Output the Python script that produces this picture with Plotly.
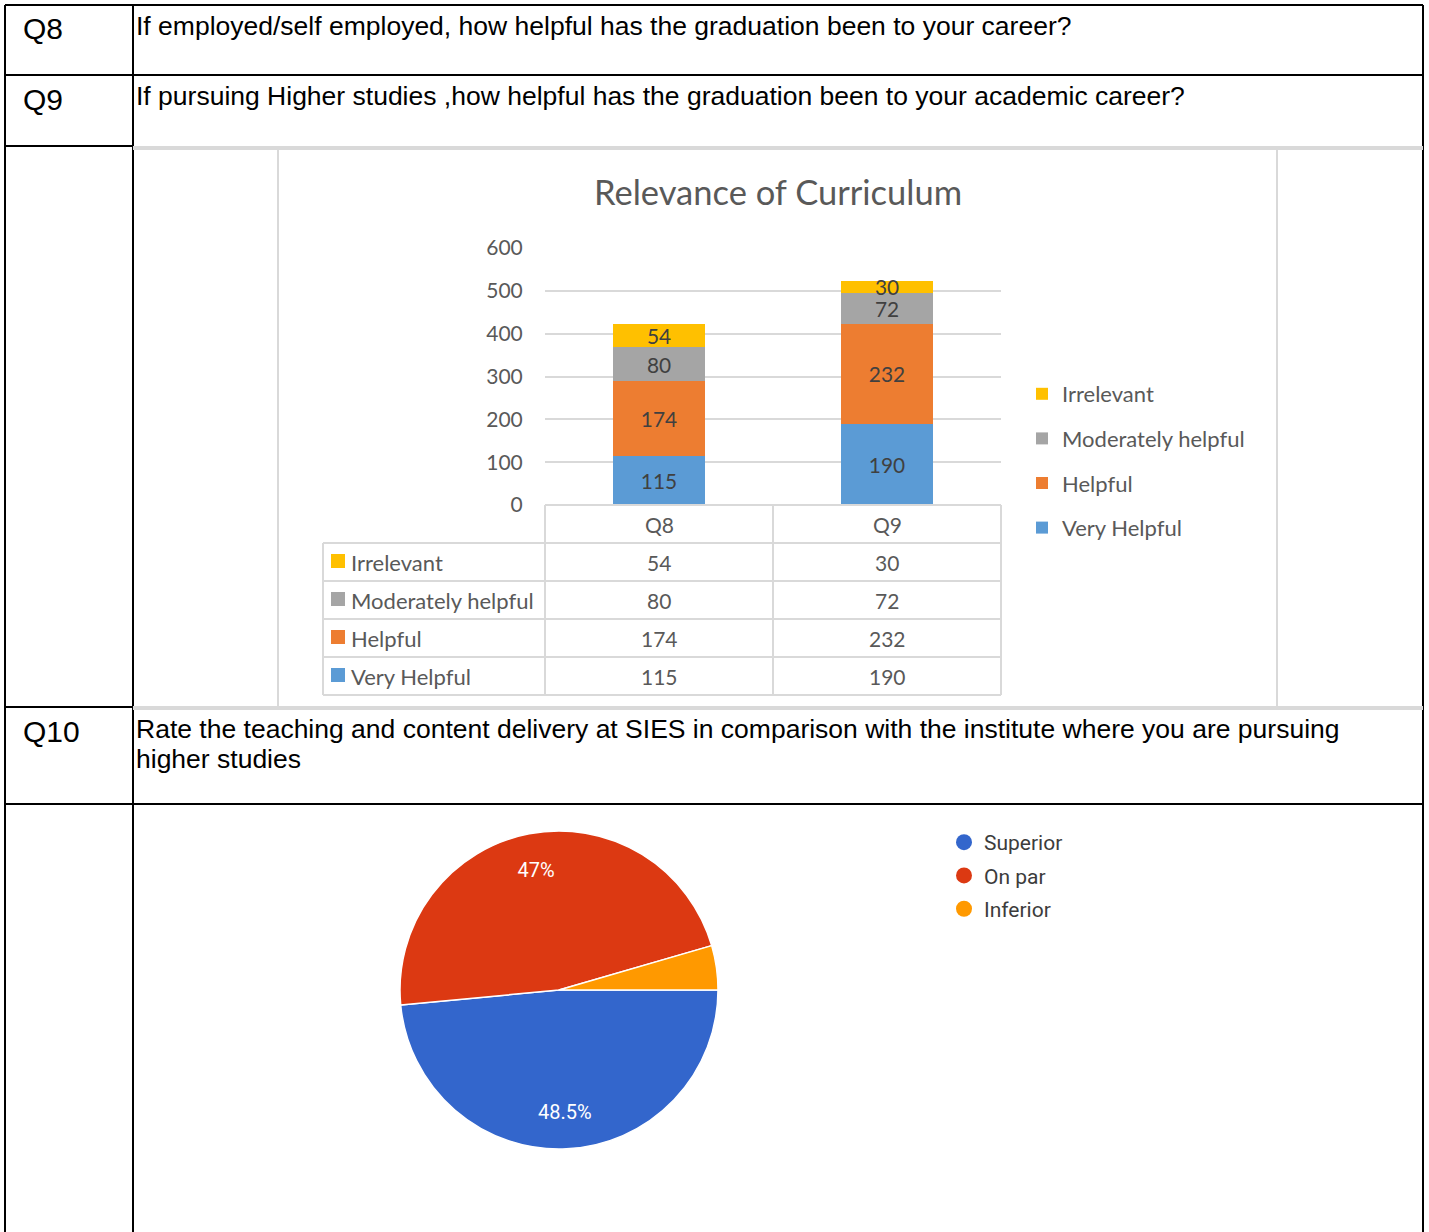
import plotly.graph_objects as go

W, H = 1429, 1232

# --- data -------------------------------------------------------------
categories = ["Q8", "Q9"]
very_helpful = [115, 190]
helpful = [174, 232]
moderately_helpful = [80, 72]
irrelevant = [54, 30]
series_names = ["Very Helpful", "Helpful", "Moderately helpful", "Irrelevant"]
series_values = [very_helpful, helpful, moderately_helpful, irrelevant]
series_colors = ["#5B9BD5", "#ED7D31", "#A5A5A5", "#FFC000"]

pie_labels = ["Superior", "On par", "Inferior"]
pie_values = [48.5, 47, 4.5]
pie_colors = ["#3366CC", "#DC3912", "#FF9900"]

q_ids = ["Q8", "Q9", "Q10"]
q_lines = [
    ["If employed/self employed, how helpful has the graduation been to your career?"],
    ["If pursuing Higher studies ,how helpful has the graduation been to your academic career?"],
    ["Rate the teaching and content delivery at SIES in comparison with the institute where you are pursuing",
     "higher studies"],
]


def px_x(x):
    return x / W


def px_y(y):
    return 1 - y / H


def line(x0, y0, x1, y1, color="black", width=2):
    return dict(type="line", xref="paper", yref="paper",
                x0=px_x(x0), y0=px_y(y0), x1=px_x(x1), y1=px_y(y1),
                line=dict(color=color, width=width), layer="above")


fig = go.Figure()

# stacked bars (legend shows Irrelevant on top)
for i, (name, vals, col) in enumerate(zip(series_names, series_values, series_colors)):
    fig.add_trace(go.Bar(
        x=categories, y=vals, name=name, legendgroup=name,
        legendrank=len(series_names) - i,
        marker=dict(color=col, line=dict(width=0)),
        text=vals, textposition="inside", insidetextanchor="middle", textangle=0,
        textfont=dict(family="Lato", size=21, color="#404040"),
        legend="legend",
    ))

# pie
pie_domain = dict(x=[px_x(400), px_x(718)], y=[px_y(1149), px_y(831)])
fig.add_trace(go.Pie(
    labels=pie_labels, values=pie_values, sort=False, direction="clockwise",
    rotation=90, showlegend=False, textinfo="none",
    marker=dict(colors=pie_colors, line=dict(color="white", width=1.5)),
    domain=pie_domain,
))
# percentage labels, set in an outer ring like the reference
fig.add_trace(go.Pie(
    labels=pie_labels, values=pie_values, sort=False, direction="clockwise",
    rotation=90, showlegend=False, hole=0.54, hoverinfo="skip",
    marker=dict(colors=["rgba(0,0,0,0)"] * len(pie_values), line=dict(width=0)),
    text=[f"{v:g}%" if v > 10 else "" for v in pie_values],
    textinfo="text", textposition="inside", insidetextorientation="horizontal",
    textfont=dict(family="Roboto", size=19, color="white"),
    domain=pie_domain,
))

# circle legend entries for the pie
for lab, col in zip(pie_labels, pie_colors):
    fig.add_trace(go.Scatter(
        x=[None], y=[None], mode="markers", name=lab, legendgroup="p" + lab,
        marker=dict(color=col, size=20, symbol="circle"), legend="legend2",
    ))

shapes = []
# outer table lines
shapes += [
    line(5, 5, 1423, 5), line(5, 5, 5, 1232), line(1423, 5, 1423, 1232),
    line(133, 5, 133, 1232), line(5, 75, 1423, 75),
    line(5, 146, 133, 146), line(5, 707, 133, 707), line(5, 804, 1423, 804),
]
# embedded chart frame
shapes += [
    line(133, 148, 1423, 148, "#d9d9d9", 4), line(133, 708, 1423, 708, "#d9d9d9", 4),
    line(278, 150, 278, 706, "#d9d9d9", 2), line(1277, 150, 1277, 706, "#d9d9d9", 2),
]
# data table under the bar chart
row_top = 505
row_h = 38
n_rows = len(series_names)
table_bottom = row_top + row_h * (n_rows + 1)
shapes.append(line(545, row_top, 1001, row_top, "#d9d9d9", 2))
for i in range(1, n_rows + 2):
    shapes.append(line(323, row_top + i * row_h, 1001, row_top + i * row_h, "#d9d9d9", 2))
for xv in [545, 773, 1001]:
    shapes.append(line(xv, row_top, xv, table_bottom, "#d9d9d9", 2))
shapes.append(line(323, row_top + row_h, 323, table_bottom, "#d9d9d9", 2))

annotations = []
# question rows
q_centers = [26, 96, 729]
for qid, lines_, yc in zip(q_ids, q_lines, q_centers):
    annotations.append(dict(text=qid, x=px_x(21), y=px_y(yc + 3), xref="paper", yref="paper",
                            xanchor="left", yanchor="middle", showarrow=False,
                            font=dict(family="Liberation Sans", size=30, color="black")))
    for k, txt in enumerate(lines_):
        annotations.append(dict(text=txt, x=px_x(134), y=px_y(yc + 30 * k), xref="paper", yref="paper",
                                xanchor="left", yanchor="middle", showarrow=False,
                                font=dict(family="Liberation Sans", size=26.5, color="black")))

# header row of data table
tbl_font = dict(family="Lato", size=21, color="#595959")
for c in categories:
    annotations.append(dict(text=c, x=c, y=px_y(row_top + row_h / 2), xref="x", yref="paper",
                            showarrow=False, font=tbl_font))
for i, (name, vals, col) in enumerate(zip(series_names[::-1], series_values[::-1], series_colors[::-1])):
    yc = row_top + row_h * (i + 1.5)
    shapes.append(dict(type="rect", xref="paper", yref="paper",
                       x0=px_x(331), x1=px_x(345), y0=px_y(yc + 6), y1=px_y(yc - 8),
                       fillcolor=col, line=dict(width=0)))
    annotations.append(dict(text=name, x=px_x(349), y=px_y(yc), xref="paper", yref="paper",
                            xanchor="left", showarrow=False,
                            font=dict(family="Lato", size=22, color="#595959")))
    for c, v in zip(categories, vals):
        annotations.append(dict(text=str(v), x=c, y=px_y(yc), xref="x", yref="paper",
                                showarrow=False, font=tbl_font))

fig.update_layout(
    width=W, height=H, autosize=False,
    margin=dict(l=0, r=0, t=0, b=0, pad=0, autoexpand=False),
    paper_bgcolor="white", plot_bgcolor="white",
    barmode="stack", bargap=0.6,
    title=dict(text="Relevance of Curriculum", x=px_x(778), y=px_y(193),
               xanchor="center", yanchor="middle",
               font=dict(family="Lato", size=34.5, color="#595959")),
    xaxis=dict(domain=[px_x(545), px_x(1001)], type="category", showticklabels=False,
               showgrid=False, zeroline=False, showline=False, fixedrange=True,
               automargin=False),
    yaxis=dict(domain=[px_y(505), px_y(248)], range=[0, 600], dtick=100,
               showgrid=True, gridcolor="#d9d9d9", gridwidth=1.5,
               zeroline=False, showline=False, ticks="outside", ticklen=17,
               tickcolor="rgba(0,0,0,0)", automargin=False,
               tickfont=dict(family="Lato", size=21, color="#595959")),
    legend=dict(x=px_x(1022), y=px_y(373), xanchor="left", yanchor="top",
                traceorder="grouped", tracegroupgap=13,
                bgcolor="rgba(0,0,0,0)",
                font=dict(family="Lato", size=22, color="#595959")),
    legend2=dict(x=px_x(944), y=px_y(822), xanchor="left", yanchor="top",
                 tracegroupgap=3, bgcolor="rgba(0,0,0,0)",
                 font=dict(family="Roboto", size=21, color="#3c3c3c")),
    uniformtext=dict(minsize=20, mode="show"),
    shapes=shapes, annotations=annotations,
)

fig.write_html("out.html", config={"displayModeBar": False},
               post_script="document.body.style.margin='0';")
